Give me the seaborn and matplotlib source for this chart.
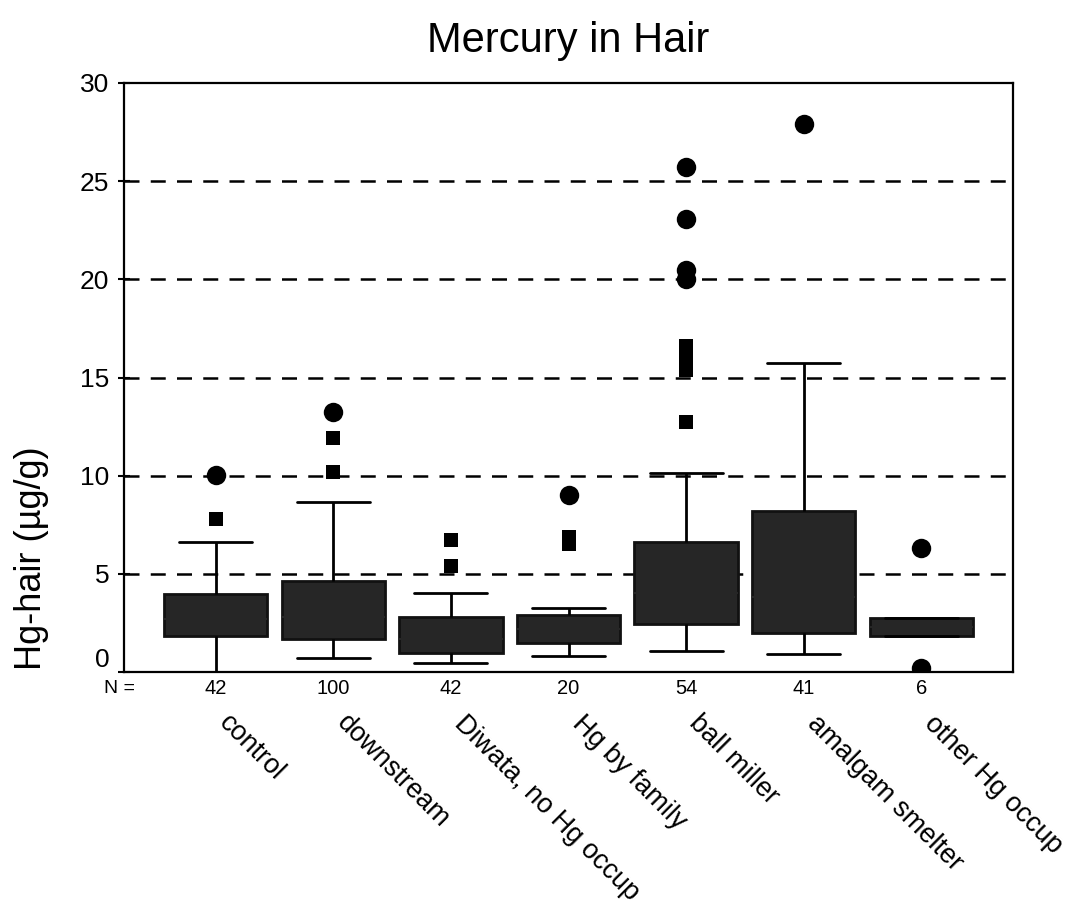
import pandas as pd
import matplotlib
matplotlib.use("Agg")
import matplotlib.pyplot as plt
import seaborn as sns

# ===============================
# Data
# ===============================
groups = ["control", "downstream", "Diwata, no Hg occup", "Hg by family",
          "ball miller", "amalgam smelter", "other Hg occup"]
n_counts = [42, 100, 42, 20, 54, 41, 6]

whisker_lo = [0.0, 0.70, 0.48, 0.80, 1.05, 0.92, 1.85]
q1 = [1.85, 1.68, 0.95, 1.50, 2.45, 1.98, 1.85]
median = [2.7, 2.8, 1.7, 2.2, 4.0, 3.8, 2.3]
q3 = [3.95, 4.65, 2.80, 2.92, 6.62, 8.22, 2.77]
whisker_hi = [6.60, 8.65, 4.05, 3.28, 10.12, 15.72, 2.77]

# outliers (circles) and extremes (squares)
circle_group = ["control", "downstream", "Hg by family", "ball miller", "ball miller",
                "ball miller", "ball miller", "amalgam smelter", "other Hg occup",
                "other Hg occup"]
circle_val = [10.05, 13.25, 9.0, 25.7, 23.05, 20.5, 20.0, 27.9, 6.3, 0.2]

square_group = ["control", "downstream", "downstream", "Diwata, no Hg occup",
                "Diwata, no Hg occup", "Hg by family", "Hg by family", "ball miller",
                "ball miller", "ball miller", "ball miller"]
square_val = [7.8, 11.9, 10.2, 6.7, 5.4, 6.9, 6.5, 16.6, 15.9, 15.4, 12.75]

# five-number summary per group -> quartiles come out exactly with whis=(0, 100)
box_df = pd.DataFrame({
    "group": [g for g in groups for _ in range(5)],
    "hg": [v for i in range(len(groups))
           for v in (whisker_lo[i], q1[i], median[i], q3[i], whisker_hi[i])],
})
circ_df = pd.DataFrame({"group": circle_group, "hg": circle_val})
sq_df = pd.DataFrame({"group": square_group, "hg": square_val})

# ===============================
# Plot
# ===============================
sns.set_style("white")
plt.rcParams["font.family"] = ["Liberation Sans", "DejaVu Sans"]
plt.rcParams["text.color"] = "black"
plt.rcParams["axes.labelcolor"] = "black"
plt.rcParams["ytick.color"] = "black"

fig = plt.figure(figsize=(10.73, 9.24), dpi=100)
ax = fig.add_axes([0.1156, 0.2727, 0.8285, 0.6375])

for y in [5, 10, 15, 20, 25]:
    ax.axhline(y, color="black", lw=1.8, ls=(0, (6, 4.5)), zorder=0)

box_col = "#262626"
sns.boxplot(data=box_df, x="group", y="hg", order=groups, whis=(0, 100),
            showfliers=False, width=0.88, color=box_col, linecolor="black",
            linewidth=2, ax=ax, capwidths=0.62,
            medianprops=dict(color=box_col, lw=1.5),
            boxprops=dict(facecolor=box_col, edgecolor="#111111"))

sns.stripplot(data=circ_df, x="group", y="hg", order=groups, jitter=False,
              marker="o", size=14, color="black", ax=ax, zorder=5)
sns.stripplot(data=sq_df, x="group", y="hg", order=groups, jitter=False,
              marker="s", size=10, color="black", ax=ax, zorder=5)

ax.set_xlim(-0.78, 6.78)
ax.set_ylim(0, 30)
ax.set_yticks([0, 5, 10, 15, 20, 25, 30])
ax.tick_params(axis="y", labelsize=19, direction="inout", length=9, width=1.5,
               left=True, pad=6, labelcolor="black")
ax.tick_params(axis="x", bottom=False, labelbottom=False)
ax.get_yticklabels()[0].set_va("bottom")
ax.set_xlabel("")
ax.set_ylabel("")
fig.text(32 / 1073, 1 - 558 / 924, "Hg-hair (µg/g)", rotation=90,
         ha="center", va="center", fontsize=26)

for s in ax.spines.values():
    s.set_visible(True)
    s.set_color("black")
    s.set_linewidth(1.6)

ax.set_title("Mercury in Hair", fontsize=30, pad=22, color="black")

# N = row and rotated category labels
trans = ax.get_xaxis_transform()
ax.text(-0.82, -0.028, "N =", transform=trans, ha="center", va="center", fontsize=14)
for i, (g, n) in enumerate(zip(groups, n_counts)):
    ax.text(i, -0.028, str(n), transform=trans, ha="center", va="center", fontsize=14.5)
    ax.text(i + 0.14, -0.065, g, transform=trans, ha="left", va="top",
            rotation=-45, rotation_mode="anchor", fontsize=19.5)

fig.savefig("out.png", dpi=100)
